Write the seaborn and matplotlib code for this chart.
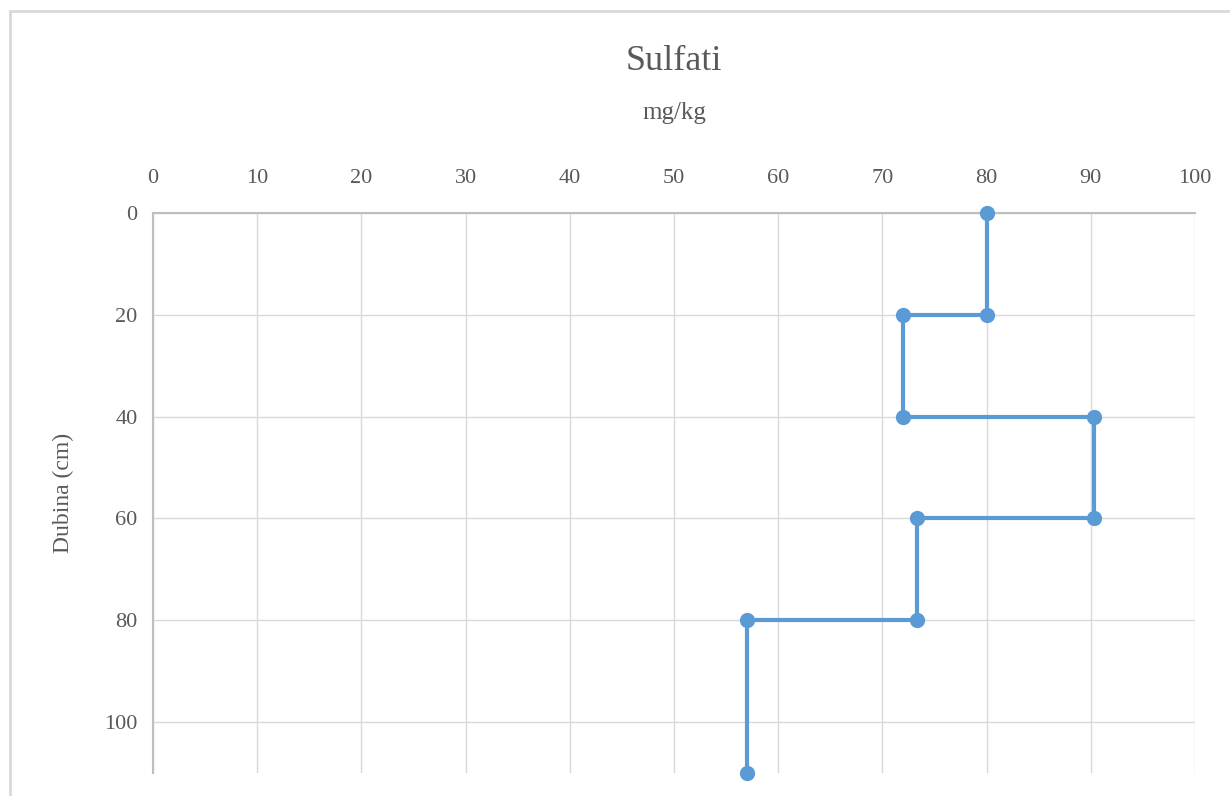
import matplotlib
matplotlib.use("Agg")
import matplotlib.pyplot as plt
import seaborn as sns
import pandas as pd
from matplotlib.patches import Rectangle

# Sulfate profile (step layout: each layer drawn top and bottom)
dubina = [0, 20, 20, 40, 40, 60, 60, 80, 80, 110]
sulfati = [80, 80, 72, 72, 90.3, 90.3, 73.3, 73.3, 57, 57]
x_ticks = [0, 10, 20, 30, 40, 50, 60, 70, 80, 90, 100]
y_ticks = [0, 20, 40, 60, 80, 100]

df = pd.DataFrame({"dubina": dubina, "sulfati": sulfati})

sns.set_style("white")
plt.rcParams['font.family'] = ['Liberation Serif', 'DejaVu Serif']

W, H = 1230, 796
fig = plt.figure(figsize=(W / 100, H / 100), dpi=100)
ax = fig.add_axes([153 / W, 1 - 773 / H, (1195 - 153) / W, (773 - 213) / H])

# outer chart border
fig.patches.append(Rectangle((10 / W, -0.01), 1.02, 1 - 11 / H + 0.01, transform=fig.transFigure,
                             fill=False, edgecolor='#d9d9d9', linewidth=2))

sns.lineplot(data=df, x="sulfati", y="dubina", sort=False, estimator=None, errorbar=None,
             ax=ax, color='#5b9bd5', linewidth=3, marker='o', markersize=11,
             markeredgewidth=0, clip_on=False, zorder=5)

ax.set_xlim(0, 100)
ax.set_ylim(110, 0)
ax.set_xticks(x_ticks)
ax.set_yticks(y_ticks)
ax.xaxis.tick_top()
ax.xaxis.set_label_position('top')
ax.tick_params(axis='both', length=0, labelsize=16, labelcolor='#595959')
ax.tick_params(axis='x', pad=18)
ax.tick_params(axis='y', pad=11)
ax.grid(True, color='#d9d9d9', linewidth=1)
ax.set_axisbelow(True)

for side in ['bottom', 'right']:
    ax.spines[side].set_visible(False)
ax.spines['top'].set_color('#bfbfbf')
ax.spines['left'].set_color('#bfbfbf')
ax.spines['top'].set_linewidth(1.5)
ax.spines['left'].set_linewidth(1.5)

ax.set_xlabel('mg/kg', fontsize=18, color='#595959', labelpad=36)
ax.set_ylabel('Dubina (cm)', fontsize=17, color='#595959', labelpad=22)
fig.text((153 + 1195) / 2 / W, 1 - 61 / H, 'Sulfati', ha='center', va='center',
         fontsize=26, color='#595959')

fig.savefig("out.png", dpi=100)
